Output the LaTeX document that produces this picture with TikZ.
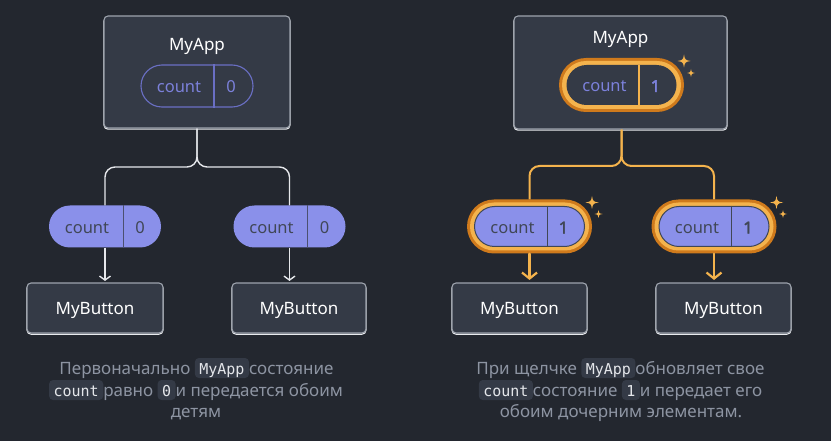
\documentclass[tikz,border=0pt]{standalone}
\usepackage{fontspec}
\setmainfont{Noto Sans}
\setmonofont{DejaVu Sans Mono}
\newfontfamily\heavysans{Noto Sans}[FakeBold=2.5]
\usetikzlibrary{arrows.meta}
\definecolor{bg}{HTML}{23272F}
\definecolor{boxfill}{HTML}{343A46}
\definecolor{boxedge}{HTML}{9DA3AD}
\definecolor{boxlow}{HTML}{E9EBEE}
\definecolor{peri}{HTML}{8A90EA}
\definecolor{perid}{HTML}{4B5070}
\definecolor{peritext}{HTML}{7C81DB}
\definecolor{periline}{HTML}{6A6FC4}
\definecolor{ordark}{HTML}{CF7A1C}
\definecolor{orlight}{HTML}{F4B34D}
\definecolor{capgray}{HTML}{8D94A2}
\definecolor{codetext}{HTML}{E4E6EA}
\definecolor{wline}{HTML}{E6E8EC}
\definecolor{dtext}{HTML}{404756}
\newcommand\cde[1]{\tikz[baseline=(cd.base)]\node[codebg](cd){#1};}
\newcommand\mysparkle[3]{\fill[orlight,shift={(#1,#2)},scale=#3] (0,-1) .. controls (0.16,-0.16) .. (1,0) .. controls (0.16,0.16) .. (0,1) .. controls (-0.16,0.16) .. (-1,0) .. controls (-0.16,-0.16) .. (0,-1) -- cycle;}
\tikzset{
  comp/.style={rectangle, rounded corners=4pt, fill=boxfill, draw=boxedge, line width=1.1pt,
    inner sep=0pt, font=\fontsize{17}{20}\selectfont, text=white, text height=12pt, text depth=0pt,
    preaction={draw=boxlow, line width=1.1pt, transform canvas={yshift=-1.2pt}}},
  lbl/.style={inner sep=0pt, font=\fontsize{17}{20}\selectfont, text=white, text height=12pt, text depth=0pt},
  pillbase/.style={rectangle, inner sep=0pt, minimum width=112pt, minimum height=42pt, rounded corners=21pt},
  pillout/.style={pillbase, fill=boxfill, draw=periline, line width=1.1pt},
  pillfill/.style={pillbase, fill=peri},
  pillglowin/.style={rectangle, inner sep=0pt, minimum width=110pt, minimum height=40pt, rounded corners=20pt},
  glowA/.style={rectangle, inner sep=0pt, minimum width=125pt, minimum height=54pt, rounded corners=27pt, fill=ordark},
  glowB/.style={rectangle, inner sep=0pt, minimum width=119pt, minimum height=48pt, rounded corners=24pt, fill=orlight},
  cnt/.style={inner sep=0pt, anchor=base, font=\fontsize{16.5}{18}\selectfont},
  cntbold/.style={inner sep=0pt, anchor=base, font=\heavysans\fontsize{16.5}{18}\selectfont},
  codebg/.style={fill=boxfill, rounded corners=4pt, inner xsep=4.5pt, inner ysep=2.5pt, text height=13.5pt,
    text depth=1.5pt, text=codetext, font=\fontsize{15}{18}\ttfamily},
  captxt/.style={inner sep=0pt, anchor=base, text=capgray, font=\fontsize{17}{20}\selectfont},
  wire/.style={draw=wline, line width=1.4pt, rounded corners=10pt},
  owire/.style={draw=orlight, line width=2pt, rounded corners=10pt},
  warrow/.style={draw=wline, line width=1.4pt, -{Straight Barb[length=4pt,width=11pt,line width=1.4pt]}, shorten >=1.5pt},
  oarrow/.style={draw=orlight, line width=2.2pt, line cap=round, -{Straight Barb[length=6pt,width=15pt,line width=2.2pt]}, shorten >=2.5pt}
}
\begin{document}
\begin{tikzpicture}[x=1pt,y=-1pt]
\fill[bg] (0,0) rectangle (831,441);
\useasboundingbox (0,0) rectangle (831,441);

% ---------- left diagram ----------
\node[comp, minimum width=186pt, minimum height=112pt] (appL) at (197,72) {};
\node[lbl] (appLt) at (197,45) {MyApp};
\node[pillout] (pA) at (197,86) {};
\draw[periline, line width=1.1pt] ([xshift=17pt]pA.north) -- ([xshift=17pt]pA.south);
\node[cnt, text=peritext] (pAc) at ([xshift=-18pt,yshift=-7pt]pA.center) {count};
\node[cnt, text=peritext] (pAv) at ([xshift=34pt,yshift=-7pt]pA.center) {0};

\node[pillfill] (L1) at (105,226.5) {};
\node[pillfill] (L2) at (289.5,226.5) {};
\coordinate (jL) at (197,167);
\draw[wire] (appL.south) -- (jL) -| (L1.north);
\draw[wire] (appL.south) -- (jL) -| (L2.north);
\foreach \p in {L1,L2}{
  \draw[perid, line width=1pt] ([xshift=18pt]\p.north) -- ([xshift=18pt]\p.south);
  \node[cnt, text=dtext] (\p c) at ([xshift=-18pt,yshift=-7pt]\p.center) {count};
  \node[cnt, text=dtext] (\p v) at ([xshift=35pt,yshift=-7pt]\p.center) {0};
}
\node[comp, minimum width=136pt, minimum height=50pt] (bL1) at (95,308) {MyButton};
\node[comp, minimum width=134pt, minimum height=50pt] (bL2) at (299,308) {MyButton};
\draw[warrow] (L1.south) -- (L1.south |- bL1.north);
\draw[warrow] (L2.south) -- (L2.south |- bL2.north);

\node[captxt] (cL1) at (196.5,374) {Первоначально \cde{MyApp}состояние};
\node[captxt] (cL2) at (196,396) {\cde{count}равно \cde{0}и передается обоим};
\node[captxt] (cL3) at (196,417) {детям};

% ---------- right diagram ----------
\node[comp, minimum width=213pt, minimum height=113pt] (appR) at (620.5,72.5) {};
\node[lbl] (appRt) at (620.5,38) {MyApp};
\node[glowA] (B) at (621.5,85) {};
\node[glowB] (Bm) at (B.center) {};
\node[pillglowin, fill=boxfill] (Bi) at (B.center) {};
\draw[orlight, line width=1.6pt] ([xshift=17.5pt]Bi.north) -- ([xshift=17.5pt]Bi.south);
\node[cnt, text=peritext] (Bc) at ([xshift=-17pt,yshift=-7pt]B.center) {count};
\node[cntbold, text=peritext] (Bv) at ([xshift=34pt,yshift=-7pt]B.center) {1};
\mysparkle{684}{61}{6.5}
\mysparkle{691}{73}{4}

\node[glowA] (R1) at (529.5,226.5) {};
\node[glowA] (R2) at (714,226.5) {};
\coordinate (jR) at (621.5,166);
\draw[owire] (appR.south -| B.center) -- (jR) -| (R1.north);
\draw[owire] (appR.south -| B.center) -- (jR) -| (R2.north);
\foreach \p/\sx/\sy in {R1/592/202.5,R2/776.5/202.5}{
  \node[glowB] (\p m) at (\p.center) {};
  \node[pillglowin, fill=peri, draw=dtext, line width=1pt] (\p i) at (\p.center) {};
  \draw[dtext, line width=1pt] ([xshift=17.5pt]\p i.north) -- ([xshift=17.5pt]\p i.south);
  \node[cnt, text=dtext] (\p c) at ([xshift=-17pt,yshift=-7pt]\p.center) {count};
  \node[cntbold, text=dtext] (\p v) at ([xshift=34pt,yshift=-7pt]\p.center) {1};
  \mysparkle{\sx}{\sy}{6.5}
  \mysparkle{\sx+6.5}{\sy+11.5}{4}
}
\node[comp, minimum width=135pt, minimum height=50pt] (bR1) at (519.5,308) {MyButton};
\node[comp, minimum width=135pt, minimum height=50pt] (bR2) at (723.5,308) {MyButton};
\draw[oarrow] (R1.south) -- (R1.south |- bR1.north);
\draw[oarrow] (R2.south) -- (R2.south |- bR2.north);

\node[captxt] (cR1) at (620.5,374) {При щелчке \cde{MyApp}обновляет свое};
\node[captxt] (cR2) at (620.5,396) {\cde{count}состояние \cde{1}и передает его};
\node[captxt] (cR3) at (621,417) {обоим дочерним элементам.};
\end{tikzpicture}
\end{document}
